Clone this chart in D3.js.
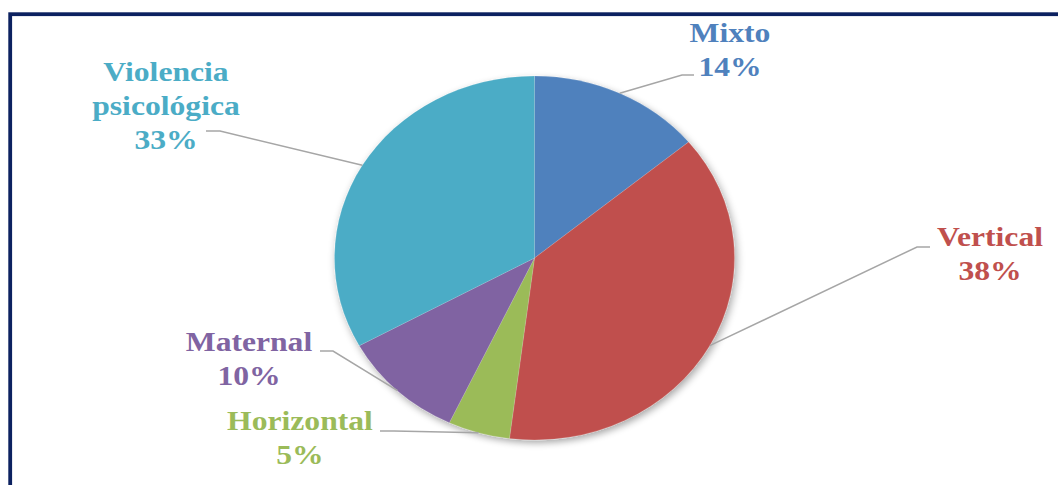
<!DOCTYPE html>
<html>
<head>
<meta charset="utf-8">
<script src="https://cdn.jsdelivr.net/npm/d3@7"></script>
<style>
  html, body { margin: 0; padding: 0; background: #ffffff; }
  svg { display: block; }
</style>
</head>
<body>
<svg id="chart" width="1058" height="485"></svg>
<script>
// Tipos de violencia (porcentaje)
const categories = ["Mixto", "Vertical", "Horizontal", "Maternal", "Violencia psicológica"];
const values = [14, 38, 5, 10, 33];
const valueLabels = ["14%", "38%", "5%", "10%", "33%"];
const labelLines = [["Mixto"], ["Vertical"], ["Horizontal"], ["Maternal"], ["Violencia", "psicológica"]];

const colors = ["#4F81BD", "#C0504D", "#9BBB59", "#8064A2", "#4BACC6"];

// Label placement: text centre x, first baseline y, leader end point and elbow
const labelLayout = {
  "Mixto":                 { x: 730, y: 42,  end: [694, 75],  elbow: [682, 75] },
  "Vertical":              { x: 990, y: 246, end: [930, 247], elbow: [917, 247] },
  "Horizontal":            { x: 300, y: 430, end: [380, 431], elbow: [394, 431] },
  "Maternal":              { x: 249, y: 351, end: [320, 351], elbow: [333, 351] },
  "Violencia psicológica": { x: 166, y: 81,  end: [206, 131], elbow: [220, 131] }
};

const W = 1058, H = 485;
const cx = 534.5, cy = 258;
const radius = 200, yScale = 0.91;   // pie is drawn slightly flattened
const lineHeight = 34;
const fontSize = 27.5, textStretch = 1.15;

const svg = d3.select("#chart");

// soft outer shadow around the pie
const defs = svg.append("defs");
const f = defs.append("filter").attr("id", "pieShadow")
  .attr("x", "-20%").attr("y", "-20%").attr("width", "140%").attr("height", "140%");
f.append("feGaussianBlur").attr("in", "SourceAlpha").attr("stdDeviation", 4).attr("result", "blur");
f.append("feOffset").attr("in", "blur").attr("dx", 2).attr("dy", 3).attr("result", "off");
f.append("feComponentTransfer").attr("in", "off").attr("result", "shadow")
  .append("feFuncA").attr("type", "linear").attr("slope", 0.35);
const merge = f.append("feMerge");
merge.append("feMergeNode").attr("in", "shadow");
merge.append("feMergeNode").attr("in", "SourceGraphic");

// frame
svg.append("rect")
  .attr("x", 10.2).attr("y", 14.2)
  .attr("width", W + 40).attr("height", H + 40)
  .attr("fill", "none")
  .attr("stroke", "#0c2160")
  .attr("stroke-width", 3.8);

const data = categories.map((c, i) => ({ category: c, value: values[i], label: valueLabels[i], lines: labelLines[i], color: colors[i] }));

const pie = d3.pie().value(d => d.value).sort(null);
const arcs = pie(data);
const arc = d3.arc().innerRadius(0).outerRadius(radius);

const pieG = svg.append("g")
  .attr("transform", `translate(${cx},${cy}) scale(1,${yScale})`)
  .attr("filter", "url(#pieShadow)");

pieG.selectAll("path.slice")
  .data(arcs)
  .join("path")
  .attr("class", "slice")
  .attr("d", arc)
  .attr("fill", d => d.data.color)
  .attr("stroke", "#ffffff")
  .attr("stroke-opacity", 0.25)
  .attr("stroke-width", 0.6);

// leader lines from the slice edge to the label
function edgePoint(d) {
  const a = (d.startAngle + d.endAngle) / 2;
  return [cx + radius * Math.sin(a), cy - radius * yScale * Math.cos(a)];
}

svg.append("g").selectAll("path.leader")
  .data(arcs)
  .join("path")
  .attr("class", "leader")
  .attr("d", d => {
    const L = labelLayout[d.data.category];
    return d3.line()([edgePoint(d), L.elbow, L.end]);
  })
  .attr("fill", "none")
  .attr("stroke", "#a6a6a6")
  .attr("stroke-width", 1.5);

// labels
const labelG = svg.append("g");
arcs.forEach(d => {
  const L = labelLayout[d.data.category];
  const rows = d.data.lines.concat([d.data.label]);
  rows.forEach((txt, k) => {
    labelG.append("text")
      .attr("transform", `translate(${L.x},${L.y + k * lineHeight}) scale(${textStretch},1)`)
      .attr("text-anchor", "middle")
      .attr("font-family", "'Liberation Serif', 'Times New Roman', serif")
      .attr("font-weight", "bold")
      .attr("font-size", fontSize)
      .attr("fill", d.data.color)
      .text(txt);
  });
});
</script>
</body>
</html>
